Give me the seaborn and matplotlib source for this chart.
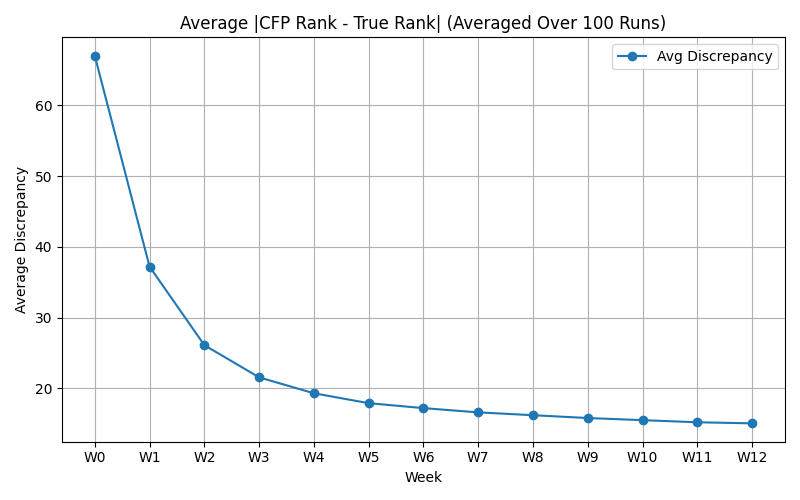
import matplotlib
matplotlib.use("Agg")
import pandas as pd
import seaborn as sns
import matplotlib.pyplot as plt

weeks = ["W0", "W1", "W2", "W3", "W4", "W5", "W6", "W7", "W8", "W9", "W10", "W11", "W12"]
avg_discrepancy = [67.0, 37.2, 26.1, 21.55, 19.3, 17.9, 17.2, 16.6, 16.2, 15.8, 15.5, 15.2, 15.05]

df = pd.DataFrame({"Week": weeks, "Average Discrepancy": avg_discrepancy})

fig, ax = plt.subplots(figsize=(8, 5), dpi=100)
sns.lineplot(x="Week", y="Average Discrepancy", data=df, marker="o", markersize=6,
             markeredgewidth=1, markeredgecolor="#1f77b4", color="#1f77b4",
             label="Avg Discrepancy", ax=ax)
ax.set_title("Average |CFP Rank - True Rank| (Averaged Over 100 Runs)")
ax.set_xlabel("Week")
ax.set_ylabel("Average Discrepancy")
ax.grid(True)
ax.legend(loc="upper right")
plt.tight_layout()
plt.savefig("out.png")
